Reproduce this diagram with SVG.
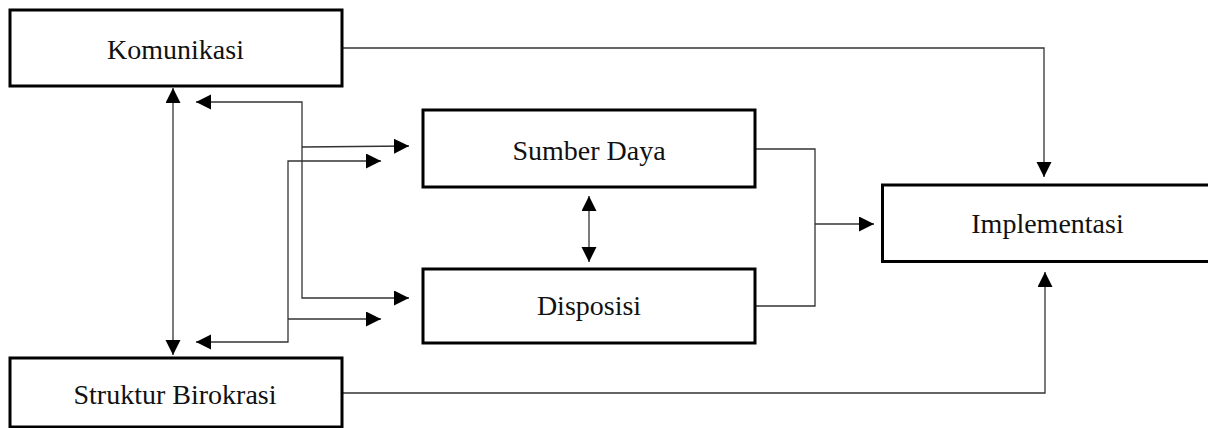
<svg xmlns="http://www.w3.org/2000/svg" width="1208" height="428" viewBox="0 0 1208 428">
<defs>
<style>
.box{fill:#fff;stroke:#000;stroke-width:3}
.lbl{font-family:"Liberation Serif","Times New Roman",serif;font-size:28px;fill:#111;text-anchor:middle}
.ln{fill:none;stroke:#333;stroke-width:1.3}
.arr{marker-end:url(#ah)}
.arr2{marker-start:url(#ah);marker-end:url(#ah)}
</style>
<marker id="ah" markerUnits="userSpaceOnUse" markerWidth="16" markerHeight="16" refX="15" refY="7.5" orient="auto-start-reverse" viewBox="0 0 16 16">
<path d="M0,0 L15,7.5 L0,15 z" fill="#000"/>
</marker>
</defs>
<rect width="1208" height="428" fill="#fff"/>
<g id="connectors">
<path class="ln arr" d="M342,48 H1044 V177"/>
<path class="ln arr" d="M342,393 H1045 V272"/>
<path class="ln arr2" d="M173,88 V355"/>
<path class="ln arr2" d="M589,196 V262"/>
<path class="ln arr2" d="M196,102 H302 V298 H409"/>
<path class="ln arr" d="M302,147 L409,146"/>
<path class="ln arr2" d="M196,342 H288 V161 H381"/>
<path class="ln arr" d="M288,319 H381"/>
<path class="ln" d="M755,149 H815 V306 H755"/>
<path class="ln arr" d="M815,224 H874"/>
</g>
<g id="komunikasi">
<rect class="box" x="10" y="10" width="332" height="76"/>
<text class="lbl" x="175.5" y="59">Komunikasi</text>
</g>
<g id="struktur-birokrasi">
<rect class="box" x="10" y="358" width="332" height="69"/>
<text class="lbl" x="175" y="404">Struktur Birokrasi</text>
</g>
<g id="sumber-daya">
<rect class="box" x="423" y="110" width="332" height="77"/>
<text class="lbl" x="589" y="160">Sumber Daya</text>
</g>
<g id="disposisi">
<rect class="box" x="423" y="269" width="332" height="74"/>
<text class="lbl" x="589" y="315">Disposisi</text>
</g>
<g id="implementasi">
<rect class="box" x="882.5" y="185" width="330" height="76.5"/>
<text class="lbl" x="1047.5" y="233">Implementasi</text>
</g>
</svg>
